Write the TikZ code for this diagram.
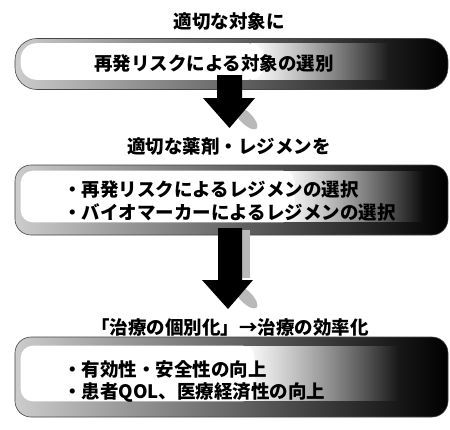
\documentclass[tikz,border=0pt]{standalone}
\usepackage{fontspec}
\newfontfamily\jp{Noto Sans CJK JP}
\usetikzlibrary{fadings,calc}
\tikzfading[name=boxfade, left color=transparent!0, right color=transparent!100]
\tikzset{
  txt/.style={font=\jp\bfseries\fontsize{18.5bp}{22bp}\selectfont, inner sep=0pt, text=black},
  panel/.style={left color=gray!40, middle color=gray!60, right color=black, draw=gray!55!black, line width=0.6bp},
  inner/.style={fill=white},
  innerfade/.style={fill=white, path fading=boxfade},
  bigarrow/.style={fill=black},
  arrowside/.style={fill=gray!55},
}
\begin{document}
\begin{tikzpicture}[x=1bp,y=-1bp]
\useasboundingbox (0,0) rectangle (450,429);
\fill[white] (0,0) rectangle (450,429);

% titles
\node[txt] (t1) at (229,21) {適切な対象に};
\node[txt] (t2) at (229,147) {適切な薬剤・レジメンを};
\node[txt] (t3) at (230,327) {「治療の個別化」→治療の効率化};

% panel 1
\node[panel, rounded corners=22bp, minimum width=433bp, minimum height=51bp, inner sep=0pt] (b1) at (231.5,64) {};
\fill[inner, rounded corners=16bp] ($(b1.north west)+(6,5)$) rectangle ($(b1.south west)+(250,-10)$);
\fill[innerfade] ($(b1.north west)+(236,5)$) rectangle ($(b1.south east)+(-60,-10)$);
\node[txt] (l1) at (214,63) {再発リスクによる対象の選別};

% panel 2
\node[panel, rounded corners=16bp, minimum width=433bp, minimum height=70bp, inner sep=0pt] (b2) at (231.5,200) {};
\fill[inner, rounded corners=12bp] ($(b2.north west)+(6,6)$) rectangle ($(b2.south west)+(280,-13)$);
\fill[innerfade] ($(b2.north west)+(268,6)$) rectangle ($(b2.south east)+(-25,-13)$);
\node[txt, anchor=west] (l2a) at (63,189) {・再発リスクによるレジメンの選択};
\node[txt, anchor=west] (l2b) at (63,212) {・バイオマーカーによるレジメンの選択};

% panel 3
\node[panel, rounded corners=16bp, minimum width=433bp, minimum height=80bp, inner sep=0pt] (b3) at (231.5,377) {};
\fill[inner, rounded corners=12bp] ($(b3.north west)+(6,9)$) rectangle ($(b3.south west)+(240,-16)$);
\fill[innerfade] ($(b3.north west)+(228,9)$) rectangle ($(b3.south east)+(-50,-16)$);
\node[txt, anchor=west] (l3a) at (63,369) {・有効性・安全性の向上};
\node[txt, anchor=west] (l3b) at (63,393) {・患者QOL、医療経済性の向上};

% arrow 1 : from panel 1 to title 2
\coordinate (a1) at (229.5,75);
\fill[arrowside, rotate around={-45:(246,118)}] (246,118) ellipse (15 and 6);
\fill[bigarrow] ($(a1)+(-12.5,0)$) -- ($(a1)+(12.5,0)$) -- ($(a1)+(12.5,23)$) -- ($(a1)+(25.5,23)$)
  -- ($(a1)+(0,53)$) -- ($(a1)+(-26.5,23)$) -- ($(a1)+(-12.5,23)$) -- cycle;

% arrow 2 : from panel 2 to title 3
\coordinate (a2) at (230,228);
\fill[arrowside] ($(a2)+(12,2)$) rectangle ($(a2)+(20,50)$);
\fill[arrowside, rotate around={-45:(246,297)}] (246,297) ellipse (15 and 6);
\fill[bigarrow] ($(a2)+(-12,0)$) -- ($(a2)+(12,0)$) -- ($(a2)+(12,52)$) -- ($(a2)+(23,52)$)
  -- ($(a2)+(-2,81)$) -- ($(a2)+(-28,52)$) -- ($(a2)+(-12,52)$) -- cycle;
\end{tikzpicture}
\end{document}
